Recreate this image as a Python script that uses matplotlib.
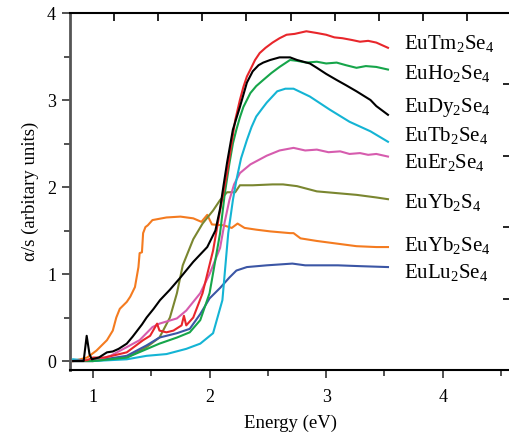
import matplotlib
matplotlib.use("Agg")
import matplotlib.pyplot as plt

plt.rcParams['font.family'] = ['Liberation Serif', 'DejaVu Serif']
plt.rcParams['mathtext.fontset'] = 'custom'
plt.rcParams['mathtext.rm'] = 'Liberation Serif'
plt.rcParams['mathtext.it'] = 'Liberation Serif:italic'

# spectra: energy (eV) and alpha/s
tm_e = [0.83, 0.95, 1.0, 1.1, 1.29, 1.43, 1.49, 1.55, 1.57, 1.63, 1.69, 1.76, 1.78, 1.80, 1.86, 1.94,
        2.03, 2.09, 2.15, 2.22, 2.26, 2.29, 2.32, 2.35, 2.39, 2.43, 2.48, 2.54, 2.6, 2.66, 2.73, 2.83,
        2.92, 3.0, 3.07, 3.14, 3.22, 3.29, 3.36, 3.43, 3.48, 3.53]
tm_v = [0.0, 0.01, 0.04, 0.04, 0.10, 0.24, 0.29, 0.43, 0.35, 0.33, 0.35, 0.41, 0.52, 0.41, 0.50, 0.78,
        1.27, 1.73, 2.16, 2.77, 3.0, 3.15, 3.27, 3.35, 3.46, 3.54, 3.6, 3.66, 3.71, 3.75, 3.76, 3.79,
        3.77, 3.75, 3.72, 3.71, 3.69, 3.67, 3.68, 3.66, 3.63, 3.60]

ho_e = [0.83, 1.0, 1.29, 1.43, 1.57, 1.72, 1.83, 1.92, 2.0, 2.09, 2.13, 2.17, 2.2, 2.23, 2.26, 2.29,
        2.35, 2.4, 2.46, 2.53, 2.6, 2.69, 2.75, 2.83, 2.92, 3.0, 3.09, 3.17, 3.26, 3.34, 3.43, 3.53]
ho_v = [0.0, 0.0, 0.04, 0.12, 0.20, 0.27, 0.33, 0.47, 0.78, 1.47, 1.92, 2.27, 2.5, 2.66, 2.8, 2.92,
        3.08, 3.16, 3.23, 3.31, 3.38, 3.46, 3.45, 3.43, 3.44, 3.42, 3.43, 3.40, 3.37, 3.39, 3.38, 3.35]

dy_e = [0.83, 0.92, 0.946, 0.97, 0.99, 1.05, 1.12, 1.17, 1.22, 1.29, 1.34, 1.38, 1.42, 1.46, 1.52,
        1.575, 1.66, 1.75, 1.86, 1.98, 2.05, 2.09, 2.12, 2.15, 2.2, 2.26, 2.32, 2.37, 2.42, 2.46, 2.52,
        2.6, 2.69, 2.75, 2.86, 2.92, 3.0, 3.09, 3.17, 3.26, 3.38, 3.43, 3.53]
dy_v = [0.0, 0.0, 0.29, 0.08, 0.02, 0.04, 0.10, 0.11, 0.14, 0.20, 0.28, 0.35, 0.42, 0.50, 0.60,
        0.70, 0.82, 0.96, 1.14, 1.31, 1.50, 1.75, 2.02, 2.28, 2.66, 2.92, 3.20, 3.33, 3.4, 3.43, 3.46,
        3.49, 3.49, 3.46, 3.42, 3.37, 3.3, 3.23, 3.17, 3.10, 3.00, 2.93, 2.83]

tb_e = [0.83, 1.0, 1.29, 1.46, 1.63, 1.8, 1.92, 2.03, 2.11, 2.16, 2.2, 2.23, 2.27, 2.32, 2.36, 2.4,
        2.45, 2.49, 2.58, 2.65, 2.72, 2.86, 3.03, 3.2, 3.38, 3.53]
tb_v = [0.02, 0.0, 0.02, 0.06, 0.08, 0.14, 0.20, 0.32, 0.70, 1.47, 1.85, 2.08, 2.33, 2.54, 2.69, 2.81,
        2.9, 2.97, 3.10, 3.13, 3.13, 3.04, 2.89, 2.75, 2.64, 2.52]

er_e = [0.83, 1.0, 1.15, 1.29, 1.4, 1.51, 1.57, 1.72, 1.8, 1.92, 2.0, 2.09, 2.13, 2.17, 2.21, 2.26,
        2.35, 2.49, 2.6, 2.72, 2.82, 2.92, 3.02, 3.12, 3.2, 3.29, 3.36, 3.43, 3.53]
er_v = [0.0, 0.0, 0.06, 0.16, 0.24, 0.39, 0.43, 0.49, 0.58, 0.78, 1.0, 1.30, 1.6, 1.85, 2.03, 2.16,
        2.26, 2.36, 2.42, 2.45, 2.42, 2.43, 2.40, 2.41, 2.38, 2.39, 2.37, 2.38, 2.35]

ybs_e = [0.83, 1.0, 1.29, 1.46, 1.57, 1.66, 1.72, 1.77, 1.86, 1.94, 2.03, 2.09, 2.15, 2.22, 2.26,
         2.37, 2.54, 2.63, 2.75, 2.92, 3.09, 3.26, 3.43, 3.53]
ybs_v = [0.0, 0.0, 0.04, 0.16, 0.27, 0.50, 0.78, 1.10, 1.40, 1.58, 1.73, 1.85, 1.94, 1.94, 2.02,
         2.02, 2.03, 2.03, 2.01, 1.95, 1.93, 1.91, 1.88, 1.86]

ybse_e = [0.83, 0.95, 1.03, 1.12, 1.17, 1.2, 1.23, 1.29, 1.32, 1.36, 1.39, 1.4, 1.42, 1.43, 1.45,
          1.47, 1.51, 1.63, 1.75, 1.86, 1.93, 1.98, 2.02, 2.12, 2.19, 2.24, 2.3, 2.4, 2.52, 2.69,
          2.72, 2.78, 2.92, 3.09, 3.26, 3.43, 3.53]
ybse_v = [0.0, 0.04, 0.12, 0.24, 0.35, 0.50, 0.60, 0.68, 0.74, 0.85, 1.08, 1.24, 1.25, 1.47, 1.54,
          1.56, 1.62, 1.65, 1.66, 1.64, 1.60, 1.68, 1.57, 1.56, 1.53, 1.58, 1.53, 1.51, 1.49, 1.47,
          1.47, 1.41, 1.38, 1.35, 1.32, 1.31, 1.31]

lu_e = [0.83, 1.0, 1.29, 1.46, 1.57, 1.72, 1.83, 1.92, 2.0, 2.09, 2.17, 2.23, 2.32, 2.49, 2.6, 2.71,
        2.82, 2.92, 3.1, 3.3, 3.53]
lu_v = [0.0, 0.0, 0.06, 0.18, 0.27, 0.32, 0.37, 0.54, 0.72, 0.84, 0.96, 1.04, 1.08, 1.10, 1.11, 1.12,
        1.10, 1.10, 1.10, 1.09, 1.08]

names = ['EuTm$_2$Se$_4$', 'EuHo$_2$Se$_4$', 'EuDy$_2$Se$_4$', 'EuTb$_2$Se$_4$',
         'EuEr$_2$Se$_4$', 'EuYb$_2$S$_4$', 'EuYb$_2$Se$_4$', 'EuLu$_2$Se$_4$']
label_y = [3.65, 3.31, 2.91, 2.59, 2.28, 1.82, 1.33, 1.02]
colors = ['#e8262b', '#16a54a', 'black', '#14b4d4', '#d65cae', '#7a8630', '#f47b20', '#3b56a5']
series = [(tm_e, tm_v), (ho_e, ho_v), (dy_e, dy_v), (tb_e, tb_v),
          (er_e, er_v), (ybs_e, ybs_v), (ybse_e, ybse_v), (lu_e, lu_v)]

fig = plt.figure(figsize=(5.1, 4.32), dpi=100)
ax = fig.add_axes([70 / 510, 1 - 370 / 432, 441 / 510, 357 / 432])

# draw order: back to front roughly as in the picture
order = [6, 5, 7, 4, 3, 1, 0, 2]
for i in order:
    e, v = series[i]
    ax.plot(e, v, color=colors[i], lw=1.5)

for name, yy in zip(names, label_y):
    ax.text(3.67, yy, name, fontsize=15, va='center', ha='left')

ax.set_xlim(0.803, 4.585)
ax.set_ylim(-0.103, 4.0)
ax.set_xticks([1, 2, 3, 4])
ax.set_xticks([1.5, 2.5, 3.5, 4.5], minor=True)
ax.set_yticks([0, 1, 2, 3, 4])
ax.set_yticks([0.5, 1.5, 2.5, 3.5], minor=True)
ax.tick_params(axis='both', which='major', direction='out', length=6, width=1.2,
               labelsize=13, color='#333333')
ax.tick_params(axis='both', which='minor', direction='out', length=4, width=1.2, color='#333333')
ax.tick_params(axis='x', pad=8)
ax.tick_params(axis='y', pad=4)
ax.set_xlabel('Energy (eV)', fontsize=13.5, labelpad=6)
ax.set_ylabel('α/s (arbitary units)', fontsize=13.5, labelpad=6)

ax.spines['left'].set_color('#555555')
ax.spines['left'].set_linewidth(2)
ax.spines['bottom'].set_linewidth(1.5)
ax.spines['top'].set_linewidth(1.5)
ax.spines['right'].set_linewidth(1.5)

# outer frame tick marks (top and right), no labels
ax_top = ax.twiny()
ax_top.set_xlim(0, 10)
ax_top.set_xticks(range(1, 10))
ax_top.tick_params(axis='x', direction='in', length=6, width=1.2, labeltop=False)
ax_right = ax.twinx()
ax_right.set_ylim(0, 5)
ax_right.set_yticks(range(1, 5))
ax_right.tick_params(axis='y', direction='in', length=6, width=1.2, labelright=False)
for a in (ax_top, ax_right):
    for s in a.spines.values():
        s.set_visible(False)

fig.savefig('out.png', dpi=100)
